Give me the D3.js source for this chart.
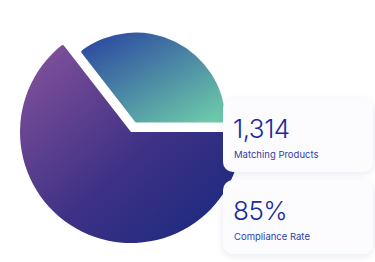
<!DOCTYPE html>
<html>
<head>
<meta charset="utf-8">
<script src="https://cdn.jsdelivr.net/npm/d3@7"></script>
<style>
  body { margin: 0; background: #fff; }
  svg { display: block; }
</style>
</head>
<body>
<div id="chart"></div>
<script>
// slice shares (big slice vs. pulled-out slice)
var sliceNames = ['Remaining', 'Matching']
var sliceValues = [64.5, 35.5]

// stat cards
var statValues = ['1,314', '85%']
var statLabels = ['Matching Products', 'Compliance Rate']

var width = 375
var height = 262

var svg = d3
  .select('#chart')
  .append('svg')
  .attr('width', width)
  .attr('height', height)

var defs = svg.append('defs')

var gradBig = defs
  .append('linearGradient')
  .attr('id', 'grad-big')
  .attr('x1', 0)
  .attr('y1', 0.15)
  .attr('x2', 0.85)
  .attr('y2', 1)
gradBig.append('stop').attr('offset', '0%').attr('stop-color', '#7d4f9a')
gradBig.append('stop').attr('offset', '55%').attr('stop-color', '#3e3185')
gradBig.append('stop').attr('offset', '100%').attr('stop-color', '#1b2a80')

var gradSmall = defs
  .append('linearGradient')
  .attr('id', 'grad-small')
  .attr('x1', 0.1)
  .attr('y1', 0)
  .attr('x2', 0.95)
  .attr('y2', 0.95)
gradSmall.append('stop').attr('offset', '0%').attr('stop-color', '#2b47a0')
gradSmall.append('stop').attr('offset', '100%').attr('stop-color', '#6ccaa9')

var shadow = defs
  .append('filter')
  .attr('id', 'shadow')
  .attr('x', '-20%')
  .attr('y', '-20%')
  .attr('width', '140%')
  .attr('height', '150%')
shadow
  .append('feDropShadow')
  .attr('dx', 0)
  .attr('dy', 2)
  .attr('stdDeviation', 3)
  .attr('flood-color', '#1b2a80')
  .attr('flood-opacity', 0.1)

var cx = 131
var cy = 132

var pie = d3
  .pie()
  .sort(null)
  .startAngle(Math.PI / 2)
  .endAngle(Math.PI / 2 + 2 * Math.PI)

var arcs = pie(sliceValues)

var radii = [111, 90]
var pull = [0, 10.5]
var fills = ['url(#grad-big)', 'url(#grad-small)']

var pieG = svg.append('g').attr('transform', 'translate(' + cx + ',' + cy + ')')

pieG
  .selectAll('path')
  .data(arcs)
  .enter()
  .append('path')
  .attr('d', (d, i) => {
    return d3
      .arc()
      .innerRadius(0)
      .outerRadius(radii[i])
      .cornerRadius(2)(d)
  })
  .attr('fill', (d, i) => fills[i])
  .attr('transform', (d, i) => {
    var mid = (d.startAngle + d.endAngle) / 2
    return 'translate(' + Math.sin(mid) * pull[i] + ',' + -Math.cos(mid) * pull[i] + ')'
  })

// cards
var cardX = 223
var cardW = 150
var cardH = 74
var cardY = d3.scaleOrdinal().domain(statLabels).range([98, 180])

var cards = svg
  .selectAll('.card')
  .data(statLabels)
  .enter()
  .append('g')
  .attr('class', 'card')
  .attr('transform', d => 'translate(' + cardX + ',' + cardY(d) + ')')

cards
  .append('rect')
  .attr('width', cardW)
  .attr('height', cardH)
  .attr('rx', 10)
  .attr('fill', '#fcfcfe')
  .attr('filter', 'url(#shadow)')

cards
  .append('text')
  .attr('x', 10)
  .attr('y', 40)
  .attr('font-family', 'Inter, sans-serif')
  .attr('font-weight', 300)
  .attr('font-size', 26)
  .attr('letter-spacing', -0.5)
  .attr('fill', '#1b2b9f')
  .text((d, i) => statValues[i])

cards
  .append('text')
  .attr('x', 11)
  .attr('y', 60)
  .attr('font-family', 'Inter, sans-serif')
  .attr('font-weight', 400)
  .attr('font-size', 9.5)
  .attr('fill', '#2d42a8')
  .text(d => d)
</script>
</body>
</html>
